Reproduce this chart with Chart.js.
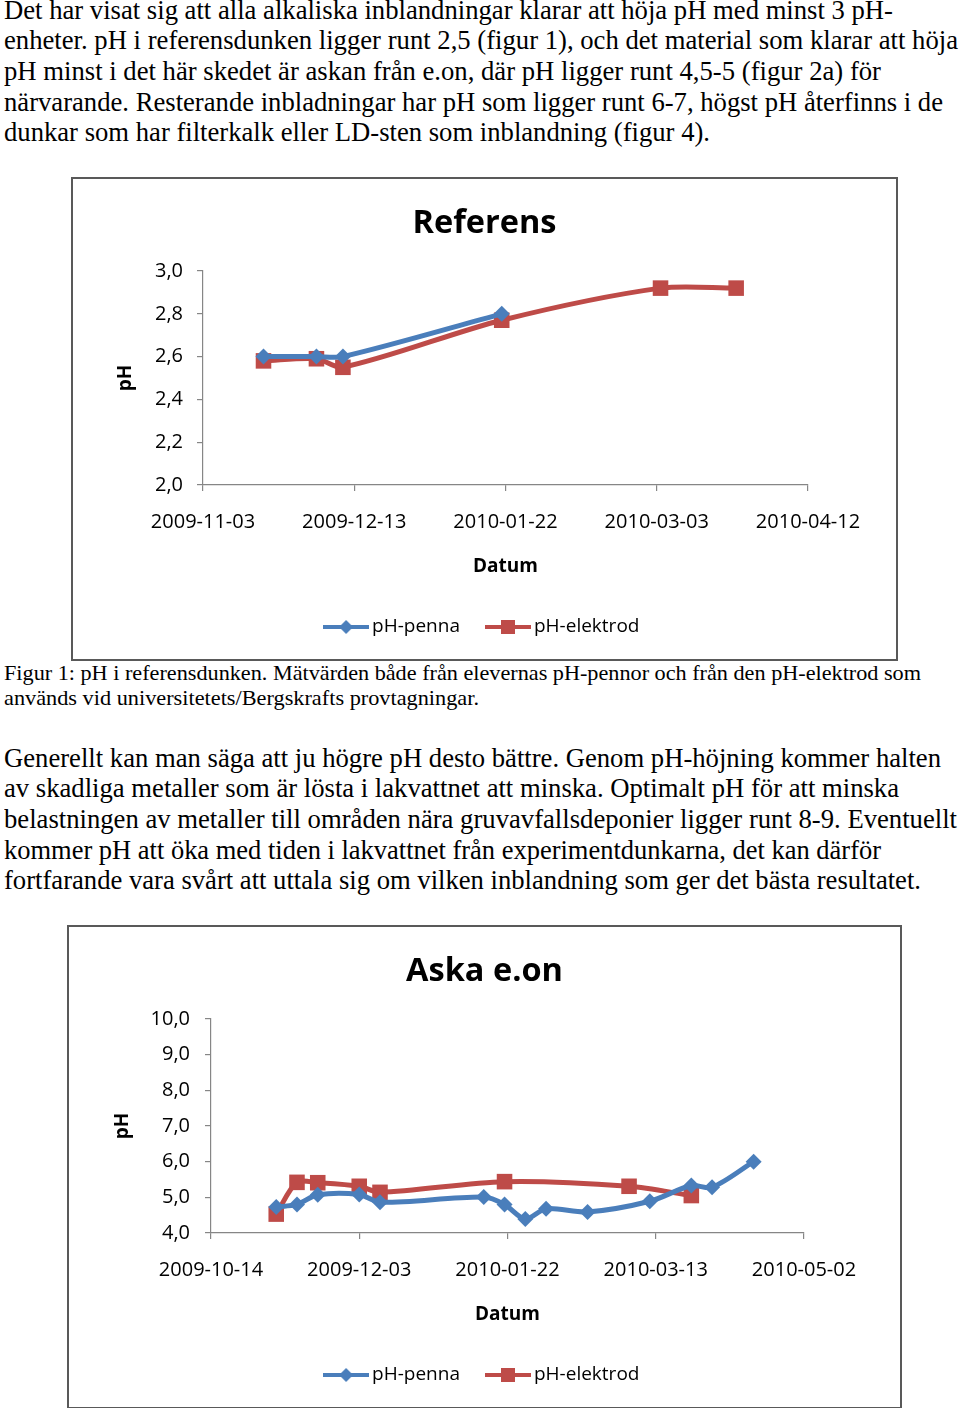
<!DOCTYPE html>
<html>
<head>
<meta charset="utf-8">
<script src="https://cdn.jsdelivr.net/npm/chart.js@4.4.0/dist/chart.umd.min.js"></script>
<style>
  body { margin: 0; width: 960px; height: 1408px; position: relative; overflow: hidden; background: #fff;
         font-family: "Liberation Serif", "Times New Roman", serif; color: #000; }
  .txt { position: absolute; left: 4px; font-size: 26.7px; line-height: 30.7px; }
  .cap { font-size: 21.7px; line-height: 25px; }
  .ln { white-space: nowrap; transform-origin: 0 0; width: max-content; }
  .frame { position: absolute; border: 2px solid #595959; }
  canvas { display: block; }
</style>
</head>
<body>

<div class="txt" style="top:-5.5px">
  <div class="ln" data-w="889">Det har visat sig att alla alkaliska inblandningar klarar att höja pH med minst 3 pH-</div>
  <div class="ln" data-w="954">enheter. pH i referensdunken ligger runt 2,5 (figur 1), och det material som klarar att höja</div>
  <div class="ln" data-w="877">pH minst i det här skedet är askan från e.on, där pH ligger runt 4,5-5 (figur 2a) för</div>
  <div class="ln" data-w="939">närvarande. Resterande inbladningar har pH som ligger runt 6-7, högst pH återfinns i de</div>
  <div class="ln" data-w="706">dunkar som har filterkalk eller LD-sten som inblandning (figur 4).</div>
</div>

<div class="frame" style="left:71px;top:177px;width:823px;height:480px">
  <canvas id="chartRef" width="823" height="480"></canvas>
</div>

<div class="txt cap" style="top:660.5px">
  <div class="ln" data-w="917">Figur 1: pH i referensdunken. Mätvärden både från elevernas pH-pennor och från den pH-elektrod som</div>
  <div class="ln" data-w="475">används vid universitetets/Bergskrafts provtagningar.</div>
</div>

<div class="txt" style="top:742.6px">
  <div class="ln" data-w="937">Generellt kan man säga att ju högre pH desto bättre. Genom pH-höjning kommer halten</div>
  <div class="ln" data-w="895">av skadliga metaller som är lösta i lakvattnet att minska. Optimalt pH för att minska</div>
  <div class="ln" data-w="953">belastningen av metaller till områden nära gruvavfallsdeponier ligger runt 8-9. Eventuellt</div>
  <div class="ln" data-w="877">kommer pH att öka med tiden i lakvattnet från experimentdunkarna, det kan därför</div>
  <div class="ln" data-w="917">fortfarande vara svårt att uttala sig om vilken inblandning som ger det bästa resultatet.</div>
</div>

<div class="frame" style="left:67px;top:925px;width:831px;height:480px">
  <canvas id="chartAska" width="831" height="480"></canvas>
</div>

<script>
// Figur 1 - Referens
const refStart = '2009-11-03';
const refPennaDates = ['2009-11-19', '2009-12-03', '2009-12-10', '2010-01-21'];
const refPenna = [2.6, 2.6, 2.6, 2.8];
const refElektrodDates = ['2009-11-19', '2009-12-03', '2009-12-10', '2010-01-21', '2010-03-04', '2010-03-24'];
const refElektrod = [2.58, 2.59, 2.55, 2.77, 2.92, 2.92];

// Figur 2a - Aska e.on
const askaStart = '2009-10-14';
const askaPennaDates = ['2009-11-05', '2009-11-12', '2009-11-19', '2009-12-03', '2009-12-10', '2010-01-14', '2010-01-21',
                        '2010-01-28', '2010-02-04', '2010-02-18', '2010-03-11', '2010-03-25', '2010-04-01', '2010-04-15'];
const askaPenna = [4.73, 4.8, 5.07, 5.08, 4.86, 5.01, 4.8, 4.39, 4.68, 4.59, 4.89, 5.33, 5.28, 6.0];
const askaElektrodDates = ['2009-11-05', '2009-11-12', '2009-11-19', '2009-12-03', '2009-12-10', '2010-01-21', '2010-03-04', '2010-03-25'];
const askaElektrod = [4.53, 5.42, 5.41, 5.31, 5.14, 5.44, 5.31, 5.05];

const BLUE = '#4a7ebb';
const RED = '#be4b48';
const GRAY = '#868686';
const DAY = 86400000;

Chart.defaults.font.family = '"Open Sans", sans-serif';

const dayOf = (start, s) => (Date.parse(s) - Date.parse(start)) / DAY;
const fmtDay = (start, v) => new Date(Date.parse(start) + v * DAY).toISOString().slice(0, 10);
const comma = v => v.toFixed(1).replace('.', ',');

// legend icon: line with the marker in the middle
const legendIcon = (color, shape) => {
    const c = document.createElement('canvas');
    c.width = 46; c.height = 18;
    const g = c.getContext('2d');
    g.strokeStyle = color; g.fillStyle = color; g.lineWidth = 4;
    g.beginPath(); g.moveTo(0, 9); g.lineTo(46, 9); g.stroke();
    g.beginPath();
    if (shape === 'diamond') {
        g.moveTo(23, 2); g.lineTo(30, 9); g.lineTo(23, 16); g.lineTo(16, 9);
    } else {
        g.rect(16, 2, 14, 14);
    }
    g.fill();
    return c;
};
const icons = [legendIcon(BLUE, 'diamond'), legendIcon(RED, 'square')];

const buildChart = (id, cfg) => {
    const toPoints = (dates, vals) => dates.map((d, i) => ({ x: dayOf(cfg.start, d), y: vals[i] }));
    const axisGrid = { drawOnChartArea: false, drawTicks: true, tickLength: 6, color: GRAY, lineWidth: 1.2 };
    new Chart(document.getElementById(id), {
        type: 'line',
        data: {
            datasets: [
                {
                    label: 'pH-penna',
                    data: toPoints(cfg.pennaDates, cfg.penna),
                    borderColor: BLUE, backgroundColor: BLUE,
                    borderWidth: 5, tension: 0.3,
                    pointStyle: 'rectRot', pointRadius: 8, pointBorderWidth: 0
                },
                {
                    label: 'pH-elektrod',
                    data: toPoints(cfg.elektrodDates, cfg.elektrod),
                    borderColor: RED, backgroundColor: RED,
                    borderWidth: 5, tension: 0.3,
                    pointStyle: 'rect', pointRadius: 11, pointBorderWidth: 0
                }
            ]
        },
        options: {
            responsive: false,
            animation: false,
            layout: { padding: { left: 0, right: 0, top: 0, bottom: 12.5 } },
            plugins: {
                title: {
                    display: true, text: cfg.title, color: '#000',
                    font: { size: 32.5, weight: 'bold' },
                    padding: { top: 25.5, bottom: 27.5 }
                },
                legend: {
                    position: 'bottom',
                    labels: {
                        usePointStyle: true, pointStyleWidth: 33, padding: 31.5,
                        color: '#000', font: { size: 19 },
                        generateLabels: (chart) => {
                            const items = Chart.defaults.plugins.legend.labels.generateLabels(chart);
                            items.forEach((it, i) => { it.pointStyle = icons[i]; });
                            return items;
                        }
                    }
                },
                tooltip: { enabled: false }
            },
            scales: {
                x: {
                    type: 'linear', min: 0, max: cfg.xMax,
                    ticks: {
                        stepSize: cfg.xStep, autoSkip: false, maxRotation: 0,
                        color: '#000', font: { size: 20 }, padding: 19,
                        callback: v => fmtDay(cfg.start, v)
                    },
                    grid: axisGrid,
                    border: { color: GRAY, width: 1.2 },
                    title: { display: true, text: 'Datum', color: '#000', font: { size: 19, weight: 'bold' }, padding: { top: 4, bottom: 7.6 } },
                    afterFit: s => { s.height = 101; s.paddingRight = cfg.padRight; }
                },
                y: {
                    min: cfg.yMin, max: cfg.yMax,
                    ticks: { stepSize: cfg.yStep, color: '#000', font: { size: 20 }, padding: cfg.yPad, callback: comma },
                    grid: axisGrid,
                    border: { color: GRAY, width: 1.2 },
                    title: { display: true, text: 'pH', color: '#000', font: { size: 19, weight: 'bold' }, padding: { top: cfg.yTitlePad, bottom: 4 } },
                    afterFit: s => { s.width = cfg.yWidth; }
                }
            }
        }
    });
};

buildChart('chartRef', {
    title: 'Referens', start: refStart, xMax: 160, xStep: 40,
    yMin: 2.0, yMax: 3.0, yStep: 0.2, yPad: 14,
    yTitlePad: 41.6, yWidth: 130, padRight: 88,
    pennaDates: refPennaDates, penna: refPenna,
    elektrodDates: refElektrodDates, elektrod: refElektrod
});

buildChart('chartAska', {
    title: 'Aska e.on', start: askaStart, xMax: 200, xStep: 50,
    yMin: 4.0, yMax: 10.0, yStep: 1, yPad: 15,
    yTitlePad: 42.6, yWidth: 142, padRight: 96,
    pennaDates: askaPennaDates, penna: askaPenna,
    elektrodDates: askaElektrodDates, elektrod: askaElektrod
});

// squeeze each text line to the width it has on the page
document.querySelectorAll('.ln').forEach(el => {
    const w = el.getBoundingClientRect().width;
    el.style.transform = 'scaleX(' + (Number(el.dataset.w) / w) + ')';
});
</script>
</body>
</html>
